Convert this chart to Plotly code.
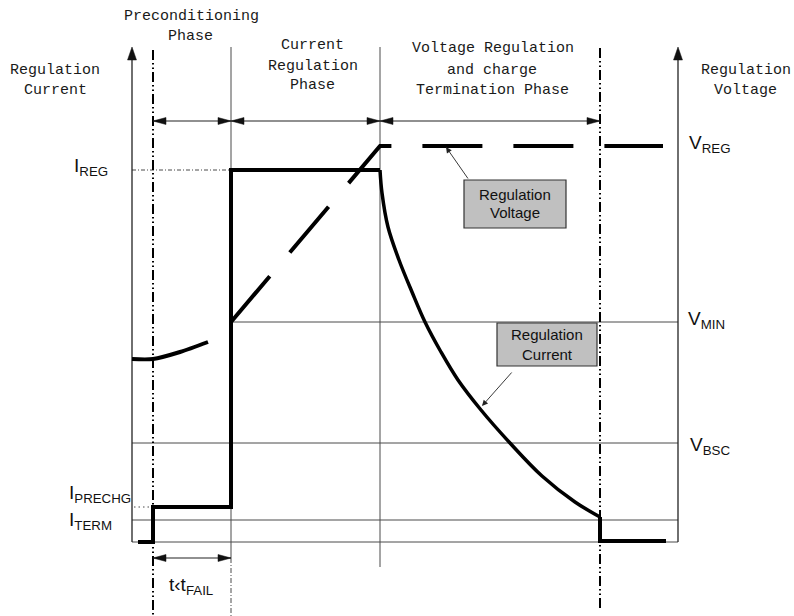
import plotly.graph_objects as go

# ---------------- diagram data (time units along x, level units along y) ----------------
# time instants (0 = left "Regulation Current" axis)
T_AXIS_L = 0
T_START = 6
T_PRE = 21
T_CC = 99
T_CV = 248
T_TERM = 468
T_CUR_END = 534
T_VOLT_END = 531
T_AXIS_R = 546

# levels
BASE = 0
I_TERM = 22
I_PRECHG = 35
V_BSC = 99
V_MIN = 220
I_REG = 372
V_REG = 396
AXIS_TOP = 495
PHASE_Y = 421
TFAIL_Y = -16
BOTTOM = -74

# charge current: pre-charge step, constant-current step
step_t = [T_START, T_PRE, T_PRE, T_CC, T_CC, T_CV]
step_i = [BASE, BASE, I_PRECHG, I_PRECHG, I_REG, I_REG]
# charge current: taper during voltage regulation
decay_t = [248, 250, 256, 267, 280, 293, 309, 326, 349, 378, 410, 443, 468]
decay_i = [372, 349, 315, 282, 250, 220, 190, 162, 132, 99, 66, 40, 25]
# charge current: termination
end_t = [T_TERM, T_TERM, T_CUR_END]
end_i = [25, 1, 1]

# battery voltage: pre-conditioning rise
pre_t = [0, 21, 48, 76]
pre_v = [183, 183, 190, 200]
# battery voltage: ramp to V_REG, then regulation
volt_t = [T_CC, T_CV, T_VOLT_END]
volt_v = [V_MIN, V_REG, V_REG]

phase_names = [
    ["Preconditioning", "Phase"],
    ["Current", "Regulation", "Phase"],
    ["Voltage Regulation", "and charge", "Termination Phase"],
]

THIN = "#4a4a4a"
BLACK = "#000000"
MONO = "Liberation Mono"
SANS = "Liberation Sans"
DASHDOT = "10px,3px,1.5px,3px,1.5px,3px"

fig = go.Figure()


def line(x, y, color=THIN, width=1, dash="solid", shape="linear", smoothing=1.0):
    fig.add_trace(go.Scatter(
        x=x, y=y, mode="lines", hoverinfo="skip", showlegend=False,
        line=dict(color=color, width=width, dash=dash, shape=shape, smoothing=smoothing),
    ))


# thin horizontal reference levels
line([T_AXIS_L, T_AXIS_R], [BASE, BASE])
line([T_AXIS_L, T_AXIS_R], [I_TERM, I_TERM])
line([T_AXIS_L, T_AXIS_R], [V_BSC, V_BSC])
line([T_CC, T_AXIS_R], [V_MIN, V_MIN])
line([T_AXIS_L, T_CC], [I_REG, I_REG], dash="4px,2px,1px,2px")
line([2, T_PRE], [I_PRECHG, I_PRECHG], dash="1.5px,3px")

# thin phase dividers
line([T_CC, T_CC], [AXIS_TOP, TFAIL_Y])
line([T_CC, T_CC], [TFAIL_Y, BOTTOM], dash="5px,2px,1px,2px")
line([T_CV, T_CV], [AXIS_TOP, -25])

# dash-dot phase boundaries
line([T_PRE, T_PRE], [492, BOTTOM], color=BLACK, width=2, dash=DASHDOT)
line([T_TERM, T_TERM], [494, -66], color=BLACK, width=2, dash=DASHDOT)

# axes
line([T_AXIS_L, T_AXIS_L], [BASE, AXIS_TOP - 8], color="#222", width=1.3)
line([T_AXIS_R, T_AXIS_R], [BASE, AXIS_TOP - 8], color="#222", width=1.3)

# arrows between phases
line([T_PRE, T_CC], [PHASE_Y, PHASE_Y], color="#222", width=1.2)
line([T_CC, T_CV], [PHASE_Y, PHASE_Y], color="#222", width=1.2)
line([T_CV, T_TERM], [PHASE_Y, PHASE_Y], color="#222", width=1.2)
line([T_PRE, T_CC], [TFAIL_Y, TFAIL_Y], color="#222", width=1.2)

# voltage curve (thick dashed)
line(pre_t, pre_v, color=BLACK, width=4, shape="spline", smoothing=0.8)
line(volt_t, volt_v, color=BLACK, width=4, dash="60px,31px")

# current curve (thick)
line(step_t, step_i, color=BLACK, width=4)
line(decay_t, decay_i, color=BLACK, width=3.5, shape="spline", smoothing=1.0)
line(end_t, end_i, color=BLACK, width=4)

# ---------------- arrow heads as filled triangles ----------------
shapes = []


def head(xt, yt, dx, dy, L=13, w=3.5):
    bx, by = xt - L * dx, yt - L * dy
    px, py = -dy, dx
    path = (f"M{xt},{yt} L{bx + w * px},{by + w * py} "
            f"L{bx - w * px},{by - w * py} Z")
    shapes.append(dict(type="path", path=path, xref="x", yref="y",
                       fillcolor="#111", line=dict(color="#111", width=0.5)))


head(T_AXIS_L, AXIS_TOP, 0, 1, L=13, w=4.5)
head(T_AXIS_R, AXIS_TOP, 0, 1, L=13, w=4.5)
for a, b in [(T_PRE, T_CC), (T_CC, T_CV), (T_CV, T_TERM)]:
    head(a, PHASE_Y, -1, 0)
    head(b, PHASE_Y, 1, 0)
head(T_PRE, TFAIL_Y, -1, 0)
head(T_CC, TFAIL_Y, 1, 0)

# label boxes
box_v = dict(x0=332, x1=434, y0=314, y1=362)
box_c = dict(x0=365, x1=465, y0=176, y1=219)
for b in (box_v, box_c):
    shapes.append(dict(type="rect", xref="x", yref="y", **b,
                       fillcolor="#c0c0c0", line=dict(color="#333", width=1.2)))

# ---------------- text ----------------
ann = []


def txt(x, y, s, size=15, family=MONO, xanchor="center", color="#1a1a1a"):
    ann.append(dict(x=x, y=y, xref="x", yref="y", text=s, showarrow=False,
                    xanchor=xanchor, yanchor="middle",
                    font=dict(family=family, size=size, color=color)))


txt(59, 526, phase_names[0][0]); txt(58, 506, phase_names[0][1])
txt(180, 497, phase_names[1][0]); txt(181, 476, phase_names[1][1]); txt(180, 457, phase_names[1][2])
txt(361, 494, phase_names[2][0]); txt(360, 472, phase_names[2][1]); txt(360, 452, phase_names[2][2])
txt(-77, 472, "Regulation"); txt(-77, 452, "Current")
txt(614, 472, "Regulation"); txt(613, 452, "Voltage")

SYM = 19
txt(-60, I_REG + 3, "I<sub>REG</sub>", SYM, SANS, "left", "#111")
txt(555, V_REG + 2, "V<sub>REG</sub>", SYM, SANS, "left", "#111")
txt(554, V_MIN + 2, "V<sub>MIN</sub>", SYM, SANS, "left", "#111")
txt(556, V_BSC - 3, "V<sub>BSC</sub>", SYM, SANS, "left", "#111")
txt(-65, I_PRECHG + 13, "I<sub>PRECHG</sub>", SYM, SANS, "left", "#111")
txt(-65, I_TERM - 1, "I<sub>TERM</sub>", SYM, SANS, "left", "#111")
txt(35, TFAIL_Y - 28, "t‹t<sub>FAIL</sub>", SYM, SANS, "left", "#111")

txt(383, 348, "Regulation", 15, SANS, color="#111")
txt(383, 330, "Voltage", 15, SANS, color="#111")
txt(415, 208, "Regulation", 15, SANS, color="#111")
txt(415, 188, "Current", 15, SANS, color="#111")

# callout arrows
for (xt, yt, xs, ys) in [(314, 395, 337, 362), (350, 136, 381, 171)]:
    ann.append(dict(x=xt, y=yt, ax=xs, ay=ys, xref="x", yref="y", axref="x", ayref="y",
                    text="", showarrow=True, arrowhead=2, arrowsize=1.3,
                    arrowwidth=0.9, arrowcolor="#222"))

fig.update_layout(
    width=794, height=616, autosize=False,
    margin=dict(l=0, r=0, t=0, b=0, pad=0),
    paper_bgcolor="white", plot_bgcolor="white",
    xaxis=dict(range=[-132, 662], visible=False, fixedrange=True),
    yaxis=dict(range=[BOTTOM, 542], visible=False, fixedrange=True),
    shapes=shapes, annotations=ann, showlegend=False,
)

fig.write_html("out.html", config={"displayModeBar": False},
               post_script="document.body.style.margin='0';")
